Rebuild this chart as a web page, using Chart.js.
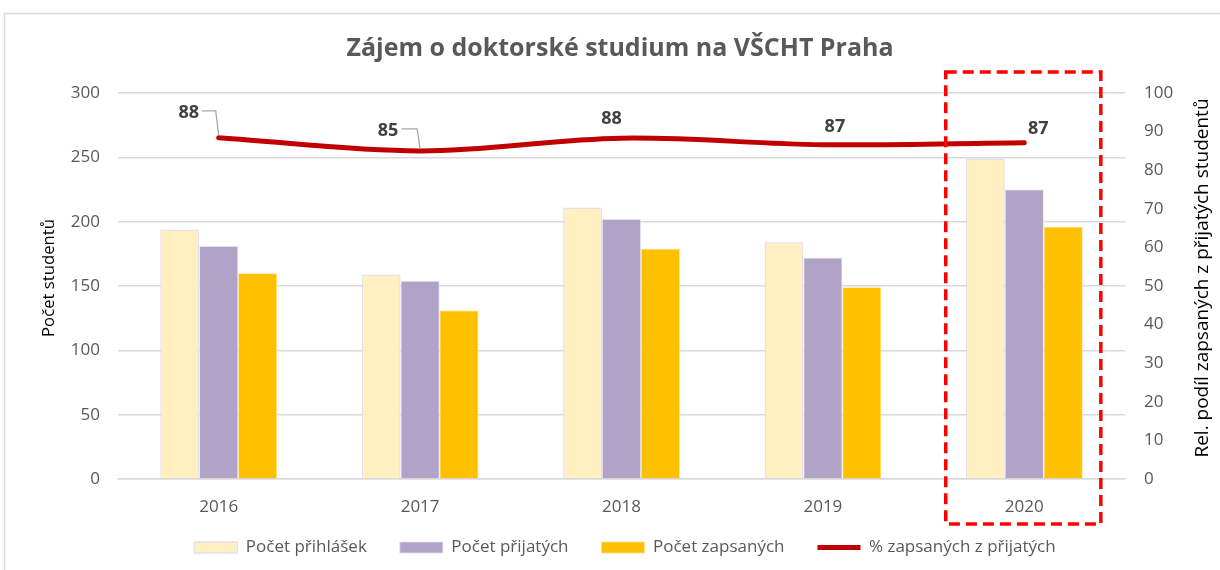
<!DOCTYPE html>
<html><head><meta charset="utf-8">
<script src="https://cdn.jsdelivr.net/npm/chart.js@4"></script>
<style>html,body{margin:0;padding:0;background:#fff;overflow:hidden}</style>
</head><body>
<canvas id="c" width="1220" height="570" style="width:1220px;height:570px;display:block"></canvas>
<script>
const categories = ['2016', '2017', '2018', '2019', '2020'];
const applications = [194, 159, 211, 184, 249];
const admitted = [181, 154, 202, 172, 225];
const enrolled = [160, 131, 179, 149, 196];
const enrolledPct = [88.4, 85.0, 88.3, 86.6, 87.1];
const leftTicks = [0, 50, 100, 150, 200, 250, 300];
const rightTicks = [0, 10, 20, 30, 40, 50, 60, 70, 80, 90, 100];
const leftTitle = 'Počet studentů';
const rightTitle = 'Rel. podíl zapsaných z přijatých studentů';

const FONT = '"Open Sans", Lato, sans-serif';
const GRID = '#d9d9d9';
const TICK = '#595959';

const framePlugin = {
  id: 'frame',
  beforeDraw(chart) {
    const ctx = chart.ctx;
    ctx.save();
    ctx.fillStyle = '#fff';
    ctx.fillRect(0, 0, chart.width, chart.height);
    ctx.strokeStyle = '#d9d9d9';
    ctx.lineWidth = 1.5;
    ctx.strokeRect(4.5, 13.5, 1400, 700);
    ctx.restore();
  }
};

const layoutFix = {
  id: 'layoutFix',
  beforeLayout(chart) {
    const lg = chart.legend;
    if (lg && !lg._fixed) {
      const orig = lg.fit;
      lg.fit = function () { orig.call(this); this.height = 40; };
      lg._fixed = true;
    }
  },
  afterLayout(chart) {
    const lg = chart.legend;
    if (lg) { lg.top = 506; lg.bottom = 570; lg.left = 30; }
    if (chart.titleBlock) { chart.titleBlock.left = 20; }
  }
};

const axisTitles = {
  id: 'axisTitles',
  afterDraw(chart) {
    const a = chart.chartArea;
    const cy = (a.top + a.bottom) / 2 - 8;
    const ctx = chart.ctx;
    [[leftTitle, 54, 16.7], [rightTitle, 1208, 19]].forEach(([t, x, s]) => {
      ctx.save();
      ctx.fillStyle = '#000';
      ctx.font = s + 'px ' + FONT;
      ctx.textAlign = 'center';
      ctx.textBaseline = 'alphabetic';
      ctx.translate(x, cy);
      ctx.rotate(-Math.PI / 2);
      ctx.fillText(t, 0, 0);
      ctx.restore();
    });
  }
};

const lineLabels = {
  id: 'lineLabels',
  afterDatasetsDraw(chart) {
    const ctx = chart.ctx;
    const meta = chart.getDatasetMeta(3);
    const offs = [[-30, -25, true], [-32, -20, true], [-10, -19, false], [12, -18, false], [14, -14, false]];
    ctx.save();
    ctx.font = 'bold 18px ' + FONT;
    ctx.textAlign = 'center';
    ctx.textBaseline = 'middle';
    meta.data.forEach((pt, i) => {
      const o = offs[i];
      const lx = pt.x + o[0], ly = pt.y + o[1];
      const txt = String(Math.round(enrolledPct[i]));
      if (o[2]) {
        const w = ctx.measureText(txt).width;
        ctx.strokeStyle = '#a6a6a6';
        ctx.lineWidth = 1.3;
        ctx.beginPath();
        ctx.moveTo(lx + w / 2 + 3, ly - 2);
        ctx.lineTo(pt.x - 3, ly - 2);
        ctx.lineTo(pt.x, pt.y - 2);
        ctx.stroke();
      }
      ctx.fillStyle = '#404040';
      ctx.fillText(txt, lx, ly);
    });
    ctx.restore();
  }
};

const highlight = {
  id: 'highlight',
  afterDraw(chart) {
    const x = chart.scales.x, a = chart.chartArea;
    const cw = (a.right - a.left) / categories.length;
    const cx = x.getPixelForValue(4);
    const ctx = chart.ctx;
    ctx.save();
    ctx.strokeStyle = '#ff0000';
    ctx.lineWidth = 3.5;
    ctx.setLineDash([11, 6]);
    ctx.strokeRect(cx - 0.39 * cw, a.top - 21, 0.77 * cw, a.bottom - a.top + 66);
    ctx.restore();
  }
};

new Chart(document.getElementById('c'), {
  data: {
    labels: categories,
    datasets: [
      { type: 'bar', label: 'Počet přihlášek', data: applications, yAxisID: 'y', backgroundColor: '#FFEFC1', borderColor: '#E6E0EC', borderWidth: 1.5, pointStyle: 'rect', order: 1 },
      { type: 'bar', label: 'Počet přijatých', data: admitted, yAxisID: 'y', backgroundColor: '#B1A2C8', borderColor: '#E6E0EC', borderWidth: 0.8, pointStyle: 'rect', order: 1 },
      { type: 'bar', label: 'Počet zapsaných', data: enrolled, yAxisID: 'y', backgroundColor: '#FFC000', borderColor: '#FFE08A', borderWidth: 0.8, pointStyle: 'rect', order: 1 },
      { type: 'line', label: '% zapsaných z přijatých', data: enrolledPct, yAxisID: 'y1', borderColor: '#C00000', backgroundColor: '#C00000', borderWidth: 5, borderCapStyle: 'round', pointRadius: 0, pointStyle: 'line', tension: 0.35, order: 0 }
    ]
  },
  options: {
    responsive: false,
    animation: false,
    devicePixelRatio: 1,
    layout: { padding: { left: 0, right: 0, top: 0, bottom: 0 } },
    datasets: { bar: { categoryPercentage: 0.58, barPercentage: 1.0 } },
    scales: {
      x: {
        grid: { display: false },
        border: { display: true, color: GRID, width: 1.5 },
        ticks: { color: TICK, font: { family: FONT, size: 17 }, padding: 10 },
        afterFit(s) { s.height = 51; }
      },
      y: {
        position: 'left',
        min: 0, max: 300,
        afterBuildTicks(s) { s.ticks = leftTicks.map(v => ({ value: v })); },
        grid: { color: GRID, lineWidth: 1.5, drawTicks: false },
        border: { display: false },
        ticks: { color: TICK, font: { family: FONT, size: 17 }, padding: 18 },
        afterFit(s) { s.width = 118; }
      },
      y1: {
        position: 'right',
        min: 0, max: 100,
        afterBuildTicks(s) { s.ticks = rightTicks.map(v => ({ value: v })); },
        grid: { display: false, drawTicks: false },
        border: { display: false },
        ticks: { color: TICK, font: { family: FONT, size: 17 }, padding: 19 },
        afterFit(s) { s.width = 95; }
      }
    },
    plugins: {
      title: {
        display: true,
        text: 'Zájem o doktorské studium na VŠCHT Praha',
        color: '#595959',
        font: { family: FONT, size: 25, weight: 'bold' },
        padding: { top: 34, bottom: 29 }
      },
      legend: {
        position: 'bottom',
        labels: {
          sort: (a, b) => a.datasetIndex - b.datasetIndex,
          usePointStyle: true,
          pointStyleWidth: 43,
          boxHeight: 11,
          padding: 33,
          color: TICK,
          font: { family: FONT, size: 17 }
        }
      },
      tooltip: { enabled: false }
    }
  },
  plugins: [framePlugin, layoutFix, axisTitles, lineLabels, highlight]
});
</script>
</body></html>
